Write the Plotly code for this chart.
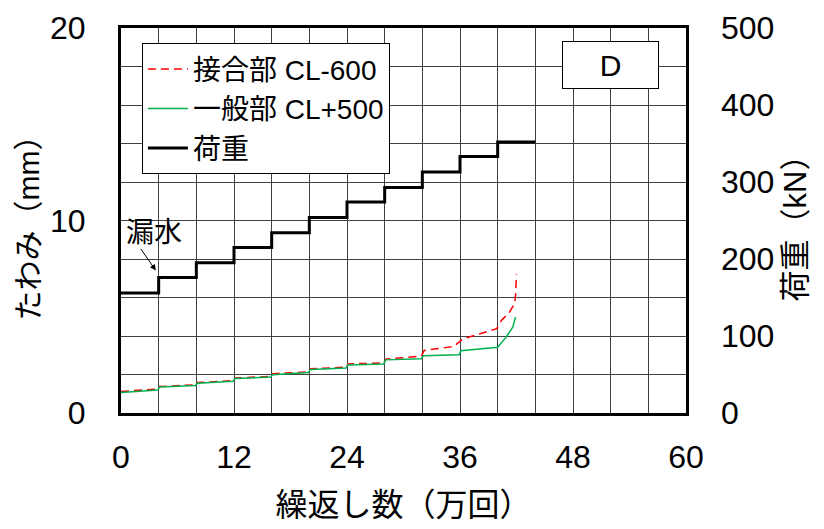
import plotly.graph_objects as go

# 繰返し数(万回) と 荷重(kN)
load_cycles = [0, 4, 8, 12, 16, 20, 24, 28, 32, 36, 40, 44]
load_kN = [156, 176, 195, 215, 234, 254, 274, 293, 313, 333, 352, 352]

# 接合部 CL-600 のたわみ(mm)
joint_cycles = [0, 3.9, 4.1, 7.9, 8.1, 11.9, 12.1, 15.9, 16.1, 19.9, 20.1, 23.9, 24.1,
                27.9, 28.1, 31.9, 32.2, 35.3, 35.9, 36.3, 39.9, 40.4, 41.2, 41.8, 41.9, 42.0]
joint_mm = [1.12, 1.25, 1.38, 1.46, 1.58, 1.68, 1.82, 1.9, 2.04, 2.14, 2.3, 2.38, 2.55,
            2.6, 2.8, 2.95, 3.25, 3.45, 3.68, 3.85, 4.38, 4.81, 5.2, 5.68, 6.11, 7.2]

# 一般部 CL+500 のたわみ(mm)
general_cycles = [0, 3.9, 4.1, 7.9, 8.1, 11.9, 12.1, 15.9, 16.1, 19.9, 20.1, 23.9, 24.1,
                  27.9, 28.1, 31.9, 32.1, 35.9, 36.1, 40.0, 40.9, 41.6, 41.9]
general_mm = [1.07, 1.19, 1.35, 1.43, 1.55, 1.65, 1.79, 1.87, 1.99, 2.1, 2.26, 2.34, 2.5,
              2.55, 2.76, 2.82, 2.97, 3.02, 3.24, 3.42, 3.94, 4.46, 4.98]

FONT = "Liberation Sans, Arial, Noto Sans CJK JP"
GRID = "#404040"

fig = go.Figure()
fig.add_trace(go.Scatter(x=joint_cycles, y=joint_mm, mode="lines", name="接合部 CL-600",
                         line=dict(color="#FF0000", width=1.5, dash="8px,5px")))
fig.add_trace(go.Scatter(x=general_cycles, y=general_mm, mode="lines", name="一般部 CL+500",
                         line=dict(color="#00B050", width=1.5)))
fig.add_trace(go.Scatter(x=load_cycles, y=load_kN, mode="lines", name="荷重", yaxis="y2",
                         line=dict(color="black", width=3, shape="hv")))

# 漏水の矢印
fig.add_annotation(x=3.7, y=7.4, xref="x", yref="y", text="", showarrow=True,
                   ax=-16, ay=-23, arrowhead=2, arrowsize=1.2, arrowwidth=1, arrowcolor="black")
fig.add_annotation(x=3.5, y=9.4, xref="x", yref="y", text="漏水", showarrow=False,
                   xanchor="center", yanchor="middle", font=dict(size=28, color="black"))
fig.add_annotation(x=0.8655, y=0.904, xref="paper", yref="paper", text="D", showarrow=False,
                   xanchor="center", yanchor="middle",
                   width=93, height=44, bordercolor="black", borderwidth=1, bgcolor="white",
                   font=dict(size=30, color="black"))

# ページ本文の余白(8px)を見込んだ大きさ
fig.update_layout(
    width=816, height=521,
    margin=dict(l=113, r=138, t=20, b=116, autoexpand=False),
    paper_bgcolor="white", plot_bgcolor="white",
    font=dict(family=FONT, size=32, color="black"),
    showlegend=True,
    legend=dict(x=0.037, y=0.96, xanchor="left", yanchor="top", bgcolor="white",
                bordercolor="black", borderwidth=1, font=dict(size=28),
                tracegroupgap=0, itemwidth=40),
    xaxis=dict(range=[0, 60], tickvals=[0, 12, 24, 36, 48, 60], showgrid=True, automargin=False,
               gridcolor=GRID, gridwidth=1, minor=dict(dtick=4, showgrid=True, gridcolor=GRID, gridwidth=1),
               showline=True, linecolor="black", linewidth=3, mirror=True, zeroline=False,
               ticks="", ticklabelstandoff=14,
               title=dict(text="繰返し数（万回）", standoff=20, font=dict(size=32))),
    yaxis=dict(range=[0, 20], tickvals=[0, 10, 20], showgrid=True, gridcolor=GRID, gridwidth=1,
               minor=dict(dtick=2, showgrid=True, gridcolor=GRID, gridwidth=1), automargin=False,
               showline=True, linecolor="black", linewidth=3, mirror=True, zeroline=False,
               ticks="", ticklabelstandoff=26,
               title=dict(text="たわみ（mm）", standoff=2, font=dict(size=30))),
    yaxis2=dict(range=[0, 500], dtick=100, overlaying="y", side="right", showgrid=False,
                zeroline=False, showline=False, ticks="", ticklabelstandoff=34, automargin=False,
                title=dict(text="荷重（kN）", standoff=10, font=dict(size=31))),
)

fig.write_html("out.html")
